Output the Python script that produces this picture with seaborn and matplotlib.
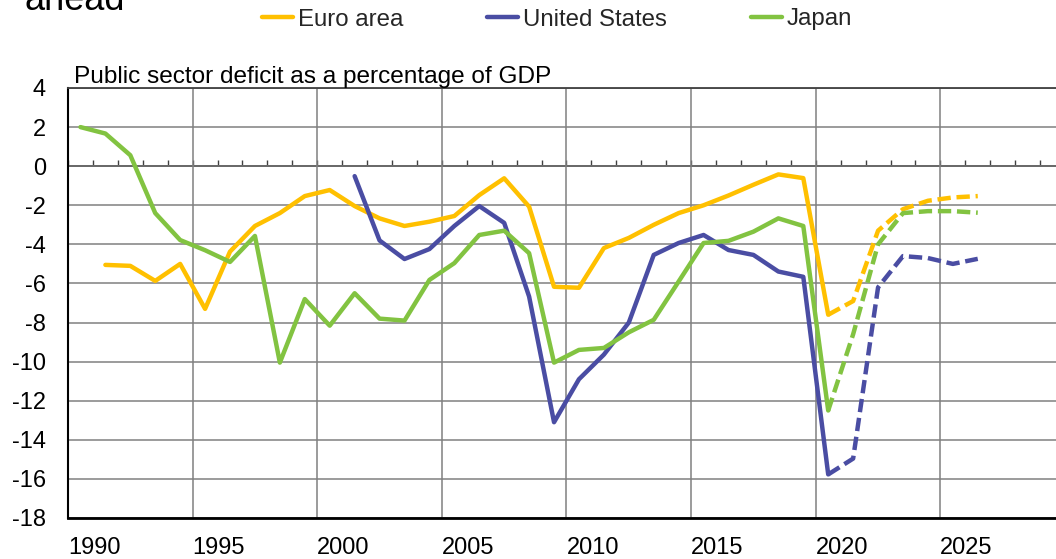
import numpy as np
import pandas as pd
import matplotlib
matplotlib.use("Agg")
import matplotlib.pyplot as plt
import seaborn as sns
from matplotlib.lines import Line2D

# ---------------- data ----------------
countries = ["Euro area", "United States", "Japan"]

euro_years = list(range(1991, 2027))
euro_values = [-5.05, -5.1, -5.87, -5.0, -7.3, -4.37, -3.06, -2.4, -1.53, -1.22,
               -2.04, -2.67, -3.06, -2.84, -2.55, -1.48, -0.62, -2.07, -6.17, -6.22,
               -4.19, -3.67, -3.0, -2.4, -2.0, -1.5, -0.95, -0.42, -0.61, -7.6,
               -6.9, -3.3, -2.2, -1.77, -1.6, -1.53]

us_years = list(range(2001, 2027))
us_values = [-0.51, -3.8, -4.75, -4.24, -3.06, -2.04, -2.9, -6.67, -13.1, -10.9,
             -9.64, -8.0, -4.54, -3.93, -3.52, -4.29, -4.54, -5.39, -5.66, -15.77,
             -14.96, -6.2, -4.6, -4.7, -5.0, -4.74]

japan_years = list(range(1990, 2027))
japan_values = [2.0, 1.67, 0.56, -2.4, -3.78, -4.3, -4.9, -3.57, -10.05, -6.8,
                -8.16, -6.5, -7.8, -7.9, -5.82, -4.96, -3.52, -3.3, -4.45, -10.05,
                -9.4, -9.3, -8.5, -7.86, -5.9, -3.93, -3.82, -3.35, -2.67, -3.06,
                -12.5, -8.6, -4.0, -2.4, -2.3, -2.3, -2.38]

projection_start = 2020
x_label_years = [1990, 1995, 2000, 2005, 2010, 2015, 2020, 2025]
y_ticks = list(range(-18, 5, 2))
colors = {"Euro area": "#FFC000", "United States": "#4A4DA3", "Japan": "#82C341"}

subtitle = "Public sector deficit as a percentage of GDP"
title_tail = "ahead"

# ---------------- tidy frame ----------------
rows = []
for name, yrs, vals in [("Euro area", euro_years, euro_values),
                        ("United States", us_years, us_values),
                        ("Japan", japan_years, japan_values)]:
    for yr, v in zip(yrs, vals):
        if yr <= projection_start:
            rows.append((name, yr, v, "actual"))
        if yr >= projection_start:
            rows.append((name, yr, v, "projection"))
df = pd.DataFrame(rows, columns=["country", "year", "value", "segment"])

# ---------------- figure ----------------
sns.set_theme(style="white")
plt.rcParams["font.family"] = ["Liberation Sans", "DejaVu Sans"]
plt.rcParams["axes.unicode_minus"] = False

W, H = 1056, 559
fig = plt.figure(figsize=(W / 100, H / 100), dpi=100)
ax = fig.add_axes([68 / W, 41 / H, 997 / W, 430 / H])

sns.lineplot(data=df, x="year", y="value", hue="country", style="segment",
             hue_order=countries, palette=colors,
             style_order=["actual", "projection"],
             dashes={"actual": "", "projection": (3, 1.3)},
             estimator=None, sort=True, lw=3.2, legend=False, ax=ax)

ax.set_xlim(1989.5, 2029.5)
ax.set_ylim(-18, 4)
ax.set_xlabel("")
ax.set_ylabel("")

ax.set_xticks([y - 0.5 for y in x_label_years], labels=[str(y) for y in x_label_years])
ax.set_yticks(y_ticks)
ax.tick_params(axis="x", length=0, pad=14, labelsize=17, colors="black")
ax.tick_params(axis="y", length=0, pad=16, labelsize=17, colors="black")
for lab in ax.get_xticklabels():
    lab.set_horizontalalignment("left")

ax.grid(True, axis="both", color="#808080", lw=1.1)
ax.set_axisbelow(True)

ax.spines["left"].set_color("black")
ax.spines["left"].set_linewidth(1.5)
ax.spines["bottom"].set_color("black")
ax.spines["bottom"].set_linewidth(2.0)
ax.spines["top"].set_color("#404040")
ax.spines["top"].set_linewidth(1.3)
ax.spines["right"].set_visible(False)

# zero line with year tick marks
zero_frac = (0 - ax.get_ylim()[0]) / (ax.get_ylim()[1] - ax.get_ylim()[0])
sec = ax.secondary_xaxis(zero_frac)
year_bounds = np.arange(1989.5, 2030, 1.0)
sec.set_xticks(year_bounds, labels=[""] * len(year_bounds))
sec.tick_params(axis="x", length=4.5, width=1.0, color="#404040", direction="out")
for s in sec.spines.values():
    s.set_color("#202020")
    s.set_linewidth(1.4)

ax.text(6 / 997, 1 + 5 / 430, subtitle, transform=ax.transAxes,
        fontsize=17.6, ha="left", va="baseline", color="black")

fig.text(25 / W, 1 - 10 / H, title_tail, fontsize=26, ha="left", va="baseline",
         color="black")

handles = [Line2D([], [], color=colors[c], lw=3.2) for c in countries]
fig.legend(handles, countries, loc="center", bbox_to_anchor=(557 / W, 1 - 19.5 / H),
           ncol=3, frameon=False, fontsize=17.3, handlelength=1.3,
           handletextpad=0.2, columnspacing=3.5)

fig.savefig("out.png", dpi=100)
